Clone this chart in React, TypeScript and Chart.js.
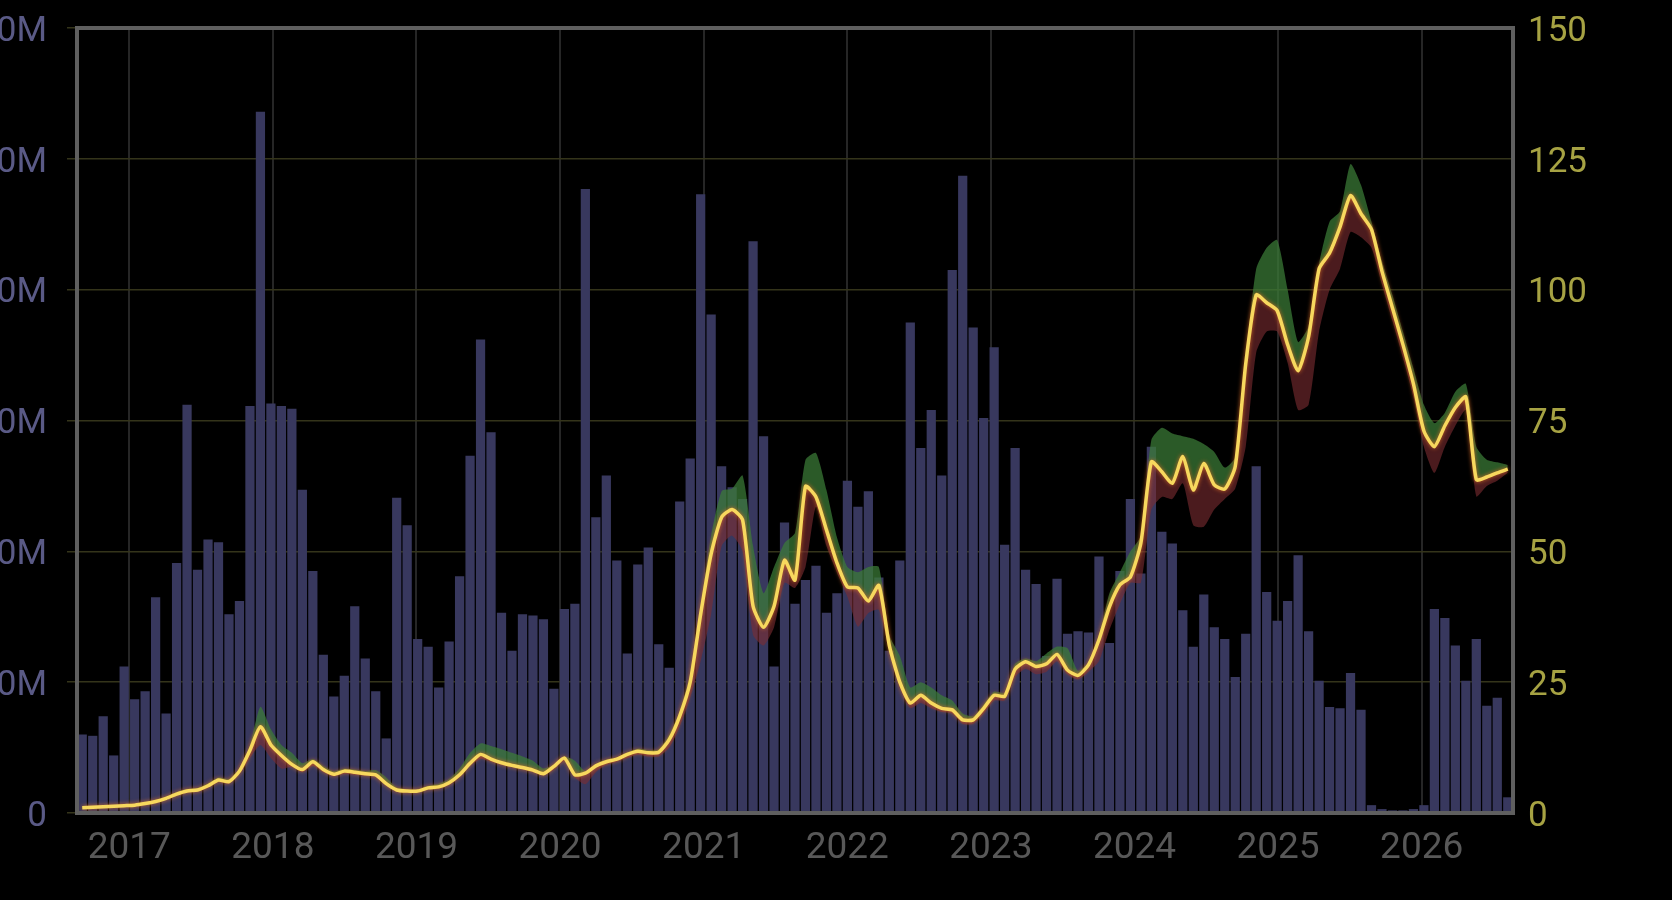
import { useEffect, useRef } from "react"
import { Chart, registerables, type ChartConfiguration, type Plugin } from "chart.js"

Chart.register(...registerables)

// plot spans ten years, first bin starts late Aug 2016
const START_YEAR = 2016.636
const END_YEAR = 2026.636
const YEAR_TICKS = [2017, 2018, 2019, 2020, 2021, 2022, 2023, 2024, 2025, 2026]

// volume per bin, millions
const VOLUME = [
  6.0, 5.9, 7.4, 4.4, 11.2, 8.7, 9.3, 16.5, 7.6, 19.1,
  31.2, 18.6, 20.9, 20.7, 15.2, 16.2, 31.1, 53.6, 31.3, 31.1,
  30.9, 24.7, 18.5, 12.1, 8.9, 10.5, 15.8, 11.8, 9.3, 5.7,
  24.1, 22.0, 13.3, 12.7, 9.6, 13.1, 18.1, 27.3, 36.2, 29.1,
  15.3, 12.4, 15.2, 15.1, 14.8, 9.5, 15.6, 16.0, 47.7, 22.6,
  25.8, 19.3, 12.2, 19.0, 20.3, 12.9, 11.1, 23.8, 27.1, 47.3,
  38.1, 26.5, 24.9, 24.0, 43.7, 28.8, 11.2, 22.2, 16.0, 17.8,
  18.9, 15.3, 16.8, 25.4, 23.4, 24.6, 18.0, 12.4, 19.3, 37.5,
  27.9, 30.8, 25.8, 41.5, 48.7, 37.1, 30.2, 35.6, 20.5, 27.9,
  18.6, 17.5, 12.0, 17.9, 13.7, 13.9, 13.8, 19.6, 13.0, 18.5,
  24.0, 18.3, 28.0, 21.5, 20.6, 15.5, 12.7, 16.7, 14.2, 13.3,
  10.4, 13.7, 26.5, 16.9, 14.7, 16.2, 19.7, 13.9, 10.1, 8.1,
  8.0, 10.7, 7.9, 0.6, 0.3, 0.2, 0.2, 0.3, 0.6, 15.6,
  14.9, 12.8, 10.1, 13.3, 8.2, 8.8, 1.2,
]

// price per bin (right axis)
const PRICE = [
  1.0, 1.1, 1.2, 1.3, 1.4, 1.5, 1.8, 2.2, 2.8, 3.6,
  4.2, 4.4, 5.2, 6.3, 6.0, 8.0, 12.0, 16.5, 13.0, 11.0,
  9.3, 8.3, 9.8, 8.3, 7.4, 8.0, 7.8, 7.5, 7.3, 5.6,
  4.4, 4.2, 4.2, 4.8, 5.0, 5.8, 7.3, 9.5, 11.2, 10.3,
  9.6, 9.1, 8.7, 8.2, 7.5, 8.9, 10.5, 7.3, 7.6, 9.0,
  9.8, 10.3, 11.2, 11.8, 11.5, 11.6, 14.0, 18.5, 25.0, 38.0,
  49.5, 56.5, 58.0, 56.0, 39.5, 35.5, 39.5, 48.3, 44.5, 62.4,
  60.4, 54.1, 47.8, 43.2, 43.0, 40.5, 43.5, 32.0, 25.0, 21.0,
  22.5, 21.0, 20.0, 19.7, 17.8, 17.8, 20.0, 22.5, 22.3, 27.5,
  28.9, 28.0, 28.5, 30.3, 27.3, 26.3, 28.3, 33.1, 39.4, 43.6,
  45.1, 51.6, 67.1, 65.2, 63.0, 68.1, 61.7, 66.8, 62.7, 61.9,
  66.2, 85.8, 99.0, 97.5, 96.0, 89.5, 84.5, 91.0, 104.0, 107.0,
  112.0, 118.0, 114.5, 111.5, 103.5, 96.5, 89.5, 82.0, 73.0, 70.0,
  74.0, 77.5, 79.5, 63.7, 64.2, 65.0, 65.7,
]

// high of each bin
const HIGH = [
  1.2, 1.3, 1.4, 1.5, 1.6, 1.7, 2.0, 2.5, 3.1, 4.0,
  4.6, 4.8, 5.7, 6.8, 6.5, 8.6, 13.0, 20.3, 16.0, 13.0,
  11.5, 9.5, 10.3, 9.0, 8.0, 8.5, 8.3, 8.0, 8.2, 6.8,
  4.9, 4.5, 4.5, 5.2, 5.6, 6.5, 8.5, 11.5, 13.3, 12.8,
  12.2, 11.5, 10.8, 10.0, 8.5, 9.2, 10.8, 10.0, 8.0, 9.4,
  10.2, 10.6, 11.6, 12.3, 12.0, 12.2, 15.0, 19.5, 26.5, 39.5,
  53.0, 61.5, 62.0, 64.5, 51.0, 42.0, 47.0, 51.6, 53.5, 67.5,
  68.8, 61.7, 52.7, 47.0, 46.0, 47.0, 47.0, 34.0, 30.0, 24.0,
  25.0, 24.0, 22.5, 21.5, 19.0, 18.5, 20.8, 23.2, 23.0, 28.5,
  29.5, 29.0, 30.5, 31.8, 31.5, 27.2, 28.8, 34.0, 42.0, 46.0,
  50.0, 53.0, 71.3, 73.6, 72.5, 72.0, 71.5, 70.5, 69.0, 66.0,
  68.0, 87.0, 104.0, 108.0, 109.5, 100.0, 90.0, 93.0, 105.0, 113.0,
  115.0, 124.0, 120.0, 113.0, 105.5, 99.0, 92.0, 85.0, 78.0, 74.5,
  76.5, 80.5, 82.0, 70.0, 67.5, 67.0, 66.5,
]

// low of each bin
const LOW = [
  0.8, 0.9, 1.0, 1.1, 1.2, 1.3, 1.6, 2.0, 2.6, 3.3,
  3.9, 4.1, 4.8, 5.9, 5.6, 7.4, 10.5, 13.0, 10.5, 8.5,
  8.8, 7.8, 9.0, 7.8, 7.0, 7.5, 7.3, 7.1, 6.9, 5.2,
  4.1, 3.9, 3.9, 4.5, 4.6, 5.3, 6.8, 9.0, 10.3, 9.8,
  9.2, 8.8, 8.3, 7.8, 7.2, 8.3, 10.0, 6.8, 5.5, 7.8,
  9.2, 9.8, 10.5, 11.2, 10.8, 10.8, 12.5, 16.5, 22.0, 29.0,
  38.0, 51.0, 53.0, 50.0, 34.0, 32.0, 35.5, 44.0, 43.0, 47.0,
  58.5, 51.0, 45.9, 41.3, 35.6, 38.2, 38.8, 31.0, 24.0, 20.0,
  21.0, 20.0, 19.3, 19.0, 17.0, 17.0, 19.0, 21.5, 21.5, 26.0,
  27.5, 26.5, 27.0, 29.0, 26.5, 25.5, 27.0, 29.0, 35.0, 40.0,
  44.0, 44.0, 58.0, 60.4, 60.0, 63.0, 55.0, 54.7, 58.0, 60.0,
  62.0, 70.0, 88.0, 92.0, 92.0, 86.0, 77.0, 78.0, 92.0, 100.0,
  104.0, 111.0, 110.0, 108.0, 101.0, 94.0, 87.0, 79.5, 70.0, 65.0,
  70.0, 74.0, 77.0, 60.5, 62.5, 63.5, 65.0,
]

const BIN_YEARS = (END_YEAR - START_YEAR) / VOLUME.length
const LABELS = VOLUME.map((_, i) => {
  const t = START_YEAR + i * BIN_YEARS
  const y = Math.floor(t)
  const m = Math.floor((t - y) * 12) + 1
  return `${y}-${String(m).padStart(2, "0")}`
})

const frame: Plugin<"bar"> = {
  id: "frame",
  afterDraw(chart) {
    const { ctx, chartArea: a } = chart
    ctx.save()
    ctx.strokeStyle = "#5f5f5f"
    ctx.lineWidth = 4
    ctx.strokeRect(a.left, a.top, a.right - a.left, a.bottom - a.top)
    ctx.restore()
  },
}

// soft orange edge round the price line
const glow: Plugin<"bar"> = {
  id: "glow",
  beforeDatasetDraw(chart, args) {
    if (args.index !== 1) return
    chart.ctx.save()
    chart.ctx.shadowColor = "rgba(220,110,40,0.9)"
    chart.ctx.shadowBlur = 4
  },
  afterDatasetDraw(chart, args) {
    if (args.index !== 1) return
    chart.ctx.restore()
  },
}

// keep the top tick label from pushing the plot down
const noVerticalPad = (s: any) => {
  s.paddingTop = 0
  s.paddingBottom = 0
}

export default function App() {
  const canvasRef = useRef<HTMLCanvasElement>(null)
  const chartRef = useRef<Chart | null>(null)

  useEffect(() => {
    if (!canvasRef.current) return
    if (chartRef.current) chartRef.current.destroy()

    Chart.defaults.font.family = "Roboto"

    const config: ChartConfiguration<"bar"> = {
      type: "bar",
      data: {
        labels: LABELS,
        datasets: [
          {
            label: "Volume",
            data: VOLUME,
            xAxisID: "x",
            yAxisID: "y",
            backgroundColor: "#38385e",
            barPercentage: 0.88,
            categoryPercentage: 1,
            order: 10,
          },
          {
            type: "line",
            label: "Price",
            data: PRICE,
            xAxisID: "x",
            yAxisID: "y1",
            borderColor: "#f7d85e",
            borderWidth: 3.5,
            pointRadius: 0,
            tension: 0.2,
            fill: false,
            order: 1,
          } as any,
          {
            type: "line",
            label: "High",
            data: HIGH,
            xAxisID: "x",
            yAxisID: "y1",
            borderWidth: 0,
            backgroundColor: "rgba(60,125,55,0.72)",
            pointRadius: 0,
            tension: 0.2,
            fill: 1,
            order: 2,
          } as any,
          {
            type: "line",
            label: "Low",
            data: LOW,
            xAxisID: "x",
            yAxisID: "y1",
            borderWidth: 0,
            backgroundColor: "rgba(125,45,50,0.6)",
            pointRadius: 0,
            tension: 0.2,
            fill: 1,
            order: 3,
          } as any,
        ],
      },
      options: {
        responsive: true,
        maintainAspectRatio: false,
        animation: false,
        layout: { padding: { top: 28, left: 0, right: 0, bottom: 0 } },
        plugins: {
          legend: { display: false },
          tooltip: { enabled: false },
        },
        scales: {
          x: {
            type: "category",
            display: false,
            offset: true,
            grid: { display: false },
          },
          xYear: {
            type: "linear",
            position: "bottom",
            min: START_YEAR,
            max: END_YEAR,
            offset: false,
            afterBuildTicks: (s) => {
              s.ticks = YEAR_TICKS.map((value) => ({ value }))
            },
            afterFit: (s) => {
              s.height = 87
            },
            border: { display: false },
            grid: { color: "#262626", lineWidth: 2, drawTicks: false, offset: false },
            ticks: {
              autoSkip: false,
              maxRotation: 0,
              padding: 14,
              color: "#585858",
              font: { size: 37 },
              callback: (v) => String(v),
            },
          },
          y: {
            position: "left",
            min: 0,
            max: 60,
            afterFit: (s) => {
              s.width = 77
              noVerticalPad(s)
            },
            border: { display: false },
            grid: { color: "#34341a", lineWidth: 1.5, tickLength: 10 },
            ticks: {
              stepSize: 10,
              padding: 20,
              labelOffset: 4,
              color: "#5a5a86",
              font: { size: 35 },
              callback: (v) => (v === 0 ? "0" : `${v}M`),
            },
          },
          y1: {
            position: "right",
            min: 0,
            max: 150,
            afterFit: (s) => {
              s.width = 159
              noVerticalPad(s)
            },
            border: { display: false },
            grid: { drawOnChartArea: false, drawTicks: false },
            ticks: {
              stepSize: 25,
              padding: 15,
              labelOffset: 4,
              color: "#a6a243",
              font: { size: 35 },
            },
          },
        },
      },
      plugins: [glow, frame],
    }

    chartRef.current = new Chart(canvasRef.current, config)

    return () => {
      if (chartRef.current) {
        chartRef.current.destroy()
        chartRef.current = null
      }
    }
  }, [])

  return (
    <div style={{ position: "fixed", left: 0, top: 0, width: 1672, height: 900, background: "#000" }}>
      <canvas ref={canvasRef} />
    </div>
  )
}
